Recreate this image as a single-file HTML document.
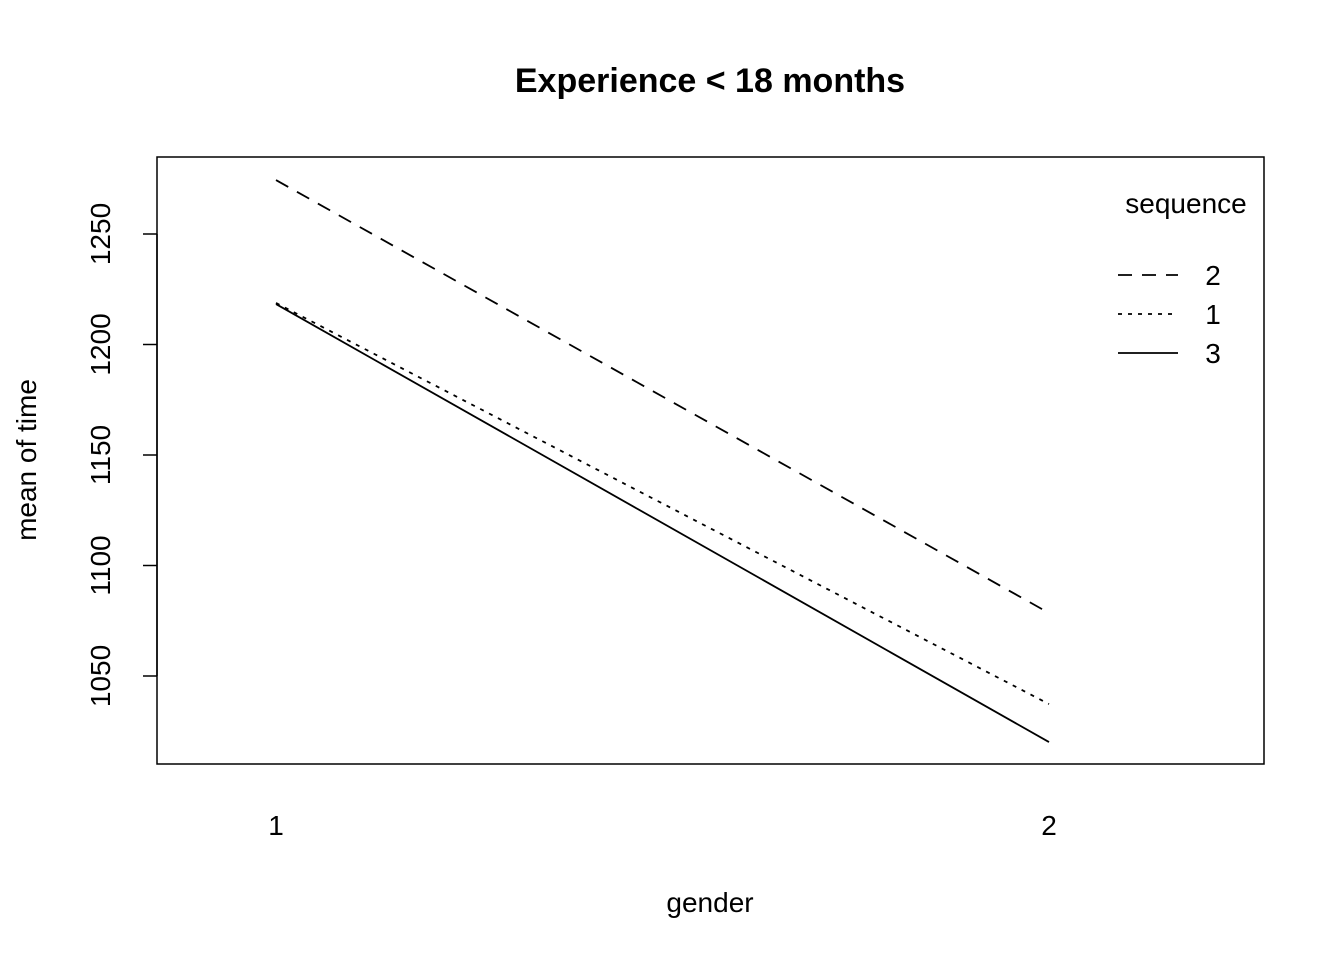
<!DOCTYPE html>
<html><head><meta charset="utf-8"><style>
html,body{margin:0;padding:0;background:#fff;}
svg{display:block;font-family:"Liberation Sans",Arial,sans-serif;}
</style></head><body>
<svg id="chart" width="1344" height="960" viewBox="0 0 1344 960">
<text x="710" y="92" text-anchor="middle" font-size="34" font-weight="bold">Experience &lt; 18 months</text>
<rect x="157" y="157" width="1107" height="607" fill="none" stroke="#000" stroke-width="1.5"/>
<g id="yaxis"></g>
<g id="xaxis"></g>
<g id="series"></g>
<text x="710" y="912" text-anchor="middle" font-size="28">gender</text>
<text transform="translate(36,460) rotate(-90)" text-anchor="middle" font-size="28">mean of  time</text>
<g id="legend">
<text x="1186" y="213" text-anchor="middle" font-size="28">sequence</text>
</g>
</svg>
<script>
const categories = ["1", "2"];
const seriesNames = ["2", "1", "3"];
const seq2 = [1274.4, 1078.5];
const seq1 = [1218.8, 1037.3];
const seq3 = [1218.3, 1020.1];
const yTicks = [1050, 1100, 1150, 1200, 1250];

const NS = "http://www.w3.org/2000/svg";
const yScale = v => 234 + (1250 - v) * (442 / 200);
const xScale = i => 276 + i * (1049 - 276);
function mk(tag, attrs, parent){const e=document.createElementNS(NS,tag);for(const k in attrs)e.setAttribute(k,attrs[k]);parent.appendChild(e);return e;}

const ya = document.getElementById('yaxis');
const y0 = yScale(yTicks[0]), y1 = yScale(yTicks[yTicks.length-1]);
const axl = mk('line',{x1:157,x2:157,y1:y0,y2:y1,stroke:'#000','stroke-width':1.5},ya);


yTicks.forEach(t=>{
  const y=yScale(t);
  const l=mk('line',{x1:143,x2:157,y1:y,y2:y,stroke:'#000','stroke-width':1.5},ya);
  
  
  const tx=mk('text',{transform:`translate(110,${y}) rotate(-90)`,'text-anchor':'middle','font-size':28},ya);
  tx.textContent=t;
  
  
});

const xa = document.getElementById('xaxis');
categories.forEach((c,i)=>{
  const tx=mk('text',{x:xScale(i),y:835,'text-anchor':'middle','font-size':28},xa);
  tx.textContent=c;
  
  
});

const dashes = ["14,10", "4,6", ""];
const data = [seq2, seq1, seq3];
const sg = document.getElementById('series');
const lg = document.getElementById('legend');
data.forEach((vals,si)=>{
  const pts = vals.map((v,i)=>xScale(i)+','+yScale(v)).join(' ');
  const p = mk('polyline',{points:pts,fill:'none',stroke:'#000','stroke-width':1.8,'stroke-dasharray':dashes[si]},sg);
  
  
  const ly = 275 + si*39;
  const ll = mk('line',{x1:1118,x2:1178,y1:ly,y2:ly,stroke:'#000','stroke-width':1.8,'stroke-dasharray':dashes[si]},lg);
  
  
  const lt = mk('text',{x:1213,y:ly+10,'text-anchor':'middle','font-size':28},lg);
  lt.textContent = seriesNames[si];
  
  
});
</script>
</body></html>
